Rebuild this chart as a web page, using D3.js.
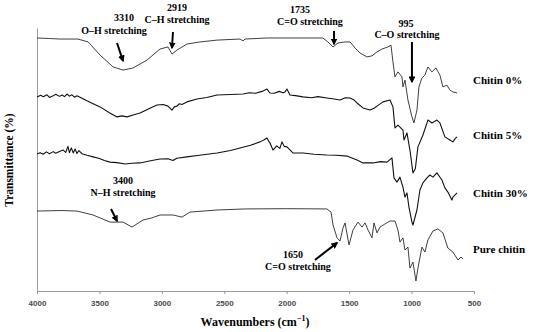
<!DOCTYPE html>
<html>
<head>
<meta charset="utf-8">
<script src="https://cdn.jsdelivr.net/npm/d3@7/dist/d3.min.js"></script>
<style>
  body { margin: 0; background: white; }
  svg { display: block; }
</style>
</head>
<body>
<svg id="chart"></svg>
<script>
// x tick values (wavenumber, cm-1)
const xTicks = [4000, 3500, 3000, 2500, 2000, 1500, 1000, 500];

// spectra: [wavenumber, transmittance (arbitrary offset %)]
const chitin0 = [
  [4000, 96.2], [3900, 96.0], [3816, 95.8], [3672, 95.8], [3590, 94.7], [3495, 89.7],
  [3391, 85.2], [3311, 84.0], [3231, 84.8], [3119, 87.8], [3015, 92.0], [2951, 92.8],
  [2919, 90.1], [2879, 91.6], [2799, 93.9], [2695, 94.7], [2558, 95.4], [2374, 95.8],
  [2350, 95.1], [2334, 95.8], [2158, 96.2], [1950, 96.2], [1710, 96.2], [1670, 94.7],
  [1629, 92.8], [1589, 94.3], [1533, 94.7], [1493, 94.7], [1453, 92.4], [1413, 90.5],
  [1357, 89.0], [1317, 89.4], [1277, 90.9], [1237, 92.0], [1189, 92.8], [1165, 93.5],
  [1149, 87.1], [1133, 81.4], [1109, 83.3], [1077, 81.4], [1069, 77.6], [1053, 80.2],
  [1029, 72.6], [997, 66.2], [981, 63.9], [957, 68.8], [941, 77.6], [917, 81.0],
  [893, 82.1], [869, 85.2], [837, 83.3], [805, 84.8], [773, 82.1], [749, 77.6],
  [717, 78.3], [693, 76.4], [669, 75.7], [636, 75.3]
];

const chitin5 = [
  [4000, 73.8], [3970, 74.4], [3950, 73.9], [3920, 74.6], [3900, 73.6], [3870, 74.2],
  [3850, 74.8], [3820, 74.0], [3800, 74.5], [3780, 73.9], [3760, 74.9], [3740, 74.1],
  [3720, 74.6], [3700, 73.7], [3680, 74.2], [3640, 73.3], [3600, 72.3], [3550, 71.2],
  [3495, 70.0], [3420, 67.8], [3359, 66.2], [3320, 66.6], [3279, 66.2], [3230, 66.9],
  [3175, 67.7], [3100, 69.4], [3039, 70.7], [2990, 70.9], [2951, 70.3], [2919, 68.8],
  [2900, 70.0], [2879, 70.3], [2860, 71.2], [2840, 70.9], [2799, 71.9], [2719, 73.0],
  [2640, 73.6], [2558, 74.5], [2450, 74.7], [2350, 74.9], [2300, 75.4], [2250, 75.2],
  [2190, 76.0], [2170, 76.5], [2158, 76.8], [2145, 75.9], [2134, 75.3], [2100, 75.2],
  [2060, 75.9], [2030, 75.4], [2014, 75.7], [1998, 76.8], [1985, 75.6], [1974, 74.5],
  [1930, 74.3], [1870, 73.8], [1800, 73.5], [1750, 73.9], [1678, 73.4], [1620, 73.0],
  [1573, 72.6], [1530, 73.5], [1493, 73.4], [1460, 72.6], [1437, 71.5], [1389, 69.6],
  [1333, 68.8], [1300, 69.5], [1277, 70.3], [1229, 71.9], [1173, 72.6], [1149, 70.0],
  [1133, 62.0], [1109, 63.1], [1069, 61.2], [1061, 57.4], [1037, 60.1], [1013, 53.6],
  [989, 44.9], [970, 46.5], [949, 54.8], [909, 59.3], [869, 65.0], [837, 63.9],
  [797, 65.0], [773, 63.9], [733, 58.6], [693, 57.4], [669, 56.7], [650, 58.0], [636, 58.6]
];

const chitin30 = [
  [4000, 52.1], [3975, 52.6], [3950, 52.0], [3925, 52.9], [3900, 52.2], [3870, 53.0],
  [3850, 52.4], [3816, 53.1], [3790, 53.6], [3770, 52.7], [3752, 55.0], [3740, 52.6],
  [3725, 54.4], [3710, 52.5], [3695, 54.0], [3680, 52.3], [3665, 53.4], [3640, 52.2],
  [3600, 51.6], [3551, 51.0], [3500, 50.4], [3460, 49.6], [3415, 49.0], [3360, 48.8],
  [3295, 48.3], [3240, 48.6], [3175, 48.7], [3100, 49.4], [3015, 50.2], [2950, 50.3],
  [2911, 49.6], [2880, 50.5], [2799, 51.0], [2700, 51.6], [2558, 52.5], [2450, 53.4],
  [2374, 54.4], [2290, 55.4], [2214, 56.7], [2180, 57.5], [2158, 58.2], [2145, 57.0],
  [2134, 56.3], [2110, 53.6], [2080, 55.2], [2055, 54.2], [2038, 56.7], [2020, 55.0],
  [1998, 54.8], [1950, 52.5], [1870, 52.5], [1780, 52.0], [1678, 51.7], [1600, 51.6],
  [1517, 51.3], [1437, 49.8], [1389, 48.7], [1309, 48.7], [1250, 49.2], [1197, 49.0],
  [1157, 50.6], [1141, 43.0], [1117, 41.4], [1093, 43.3], [1069, 39.5], [1053, 35.7],
  [1037, 37.3], [1021, 31.9], [997, 26.2], [989, 25.1], [957, 30.8], [933, 38.4],
  [909, 41.1], [877, 43.0], [853, 44.1], [829, 43.3], [797, 44.9], [757, 42.2],
  [733, 39.2], [709, 37.6], [677, 34.6], [669, 35.7], [636, 37.3]
];

const pureChitin = [
  [4000, 30.4], [3800, 30.6], [3680, 30.4], [3551, 28.9], [3415, 26.2], [3311, 26.2],
  [3239, 24.3], [3151, 27.0], [3079, 27.8], [3015, 28.9], [2911, 28.9], [2839, 28.1],
  [2775, 30.0], [2558, 30.8], [2334, 31.2], [2000, 31.3], [1678, 31.2], [1645, 30.0],
  [1629, 25.1], [1597, 20.2], [1573, 19.0], [1549, 24.0], [1533, 25.9], [1501, 17.5],
  [1469, 23.2], [1429, 26.2], [1397, 24.3], [1373, 25.9], [1349, 23.2], [1317, 20.2],
  [1301, 25.9], [1277, 22.1], [1253, 24.3], [1213, 25.5], [1173, 26.6], [1133, 26.6],
  [1109, 23.2], [1093, 18.6], [1069, 20.2], [1053, 15.6], [1029, 16.7], [1013, 8.7],
  [989, 11.0], [965, 3.8], [949, 8.7], [917, 16.7], [893, 14.8], [869, 19.4],
  [829, 22.8], [789, 23.6], [749, 22.1], [709, 16.3], [669, 14.8], [628, 11.8],
  [604, 12.9], [588, 12.2]
];

const seriesNames = ["Chitin 0%", "Chitin 5%", "Chitin 30%", "Pure chitin"];
const seriesData = [chitin0, chitin5, chitin30, pureChitin];
// where the series name sits (wavenumber, transmittance)
const seriesLabelPos = [[508, 78.7], [508, 57.8], [508, 35.7], [508, 14.4]];

// peak annotations: number, description, number pos, description pos, arrow from -> to
const peakNums = ["3310", "2919", "1735", "995", "3400", "1650"];
const peakDescs = ["O–H stretching", "C–H stretching", "C=O stretching", "C–O stretching", "N–H stretching", "C=O stretching"];
const peakNumPos = [[3303, 102.7], [2879, 106.5], [1894, 105.7], [1045, 100.4], [3311, 40.7], [1950, 12.5]];
const peakDescPos = [[3383, 97.7], [2879, 101.9], [1814, 101.1], [1037, 96.2], [3311, 36.1], [1910, 8.0]];
const arrowFrom = [[3359, 94.3], [2911, 98.5], [1621, 98.9], [997, 94.7], [3407, 31.2], [1774, 11.8]];
const arrowTo = [[3311, 87.5], [2919, 92.4], [1621, 93.9], [997, 79.5], [3359, 26.6], [1597, 18.3]];

const width = 533, height = 332;
const svg = d3.select("#chart").attr("width", width).attr("height", height);

const x = d3.scaleLinear().domain([4000, 500]).range([37, 474]);
const y = d3.scaleLinear().domain([0, 100]).range([291, 28]);

//axes
const xAxis = svg.append("g")
  .attr("transform", `translate(0,${y(0)})`)
  .call(d3.axisBottom(x).tickValues(xTicks).tickFormat(d3.format("d"))
    .tickSize(3).tickSizeOuter(0).tickPadding(6));
xAxis.select(".domain").attr("stroke", "#9a9a9a");
xAxis.selectAll(".tick line").attr("stroke", "#9a9a9a");
xAxis.selectAll(".tick text")
  .style("font-family", "'Liberation Sans', Arial, sans-serif")
  .style("font-size", "8px")
  .style("font-weight", "bold")
  .attr("fill", "#4a4a4a");

const yAxis = svg.append("g")
  .attr("transform", `translate(${x(4000)},0)`)
  .call(d3.axisLeft(y).tickValues([]).tickSizeOuter(0));
yAxis.select(".domain").attr("stroke", "#9a9a9a");

//axis titles
const serif = "'Liberation Serif', 'Times New Roman', serif";
const xTitle = svg.append("text")
  .attr("x", 255).attr("y", 326)
  .attr("text-anchor", "middle")
  .style("font-family", serif).style("font-size", "12px").style("font-weight", "bold");
xTitle.append("tspan").text("Wavenumbers (cm");
xTitle.append("tspan").attr("dy", -5).style("font-size", "8px").text("−1");
xTitle.append("tspan").attr("dy", 5).text(")");

svg.append("text")
  .attr("transform", "translate(13,160) rotate(-90)")
  .attr("text-anchor", "middle")
  .style("font-family", serif).style("font-size", "11.5px").style("font-weight", "bold")
  .text("Transmittance (%)");

//spectra
const line = d3.line().x(d => x(d[0])).y(d => y(d[1]));
svg.selectAll("path.spectrum")
  .data(seriesData)
  .join("path")
  .attr("class", "spectrum")
  .attr("d", line)
  .attr("fill", "none")
  .attr("stroke", (d, i) => (i === 0 || i === 3) ? "#2a2a2a" : "#111")
  .attr("stroke-width", (d, i) => (i === 0 || i === 3) ? 0.9 : 1.1)
  .attr("stroke-linejoin", "round");

//series names
svg.selectAll("text.series")
  .data(seriesNames)
  .join("text")
  .attr("class", "series")
  .attr("x", (d, i) => x(seriesLabelPos[i][0]))
  .attr("y", (d, i) => y(seriesLabelPos[i][1]))
  .style("font-family", serif).style("font-size", "11px").style("font-weight", "bold")
  .text(d => d);

//arrows
svg.append("defs").append("marker")
  .attr("id", "head")
  .attr("viewBox", "0 0 10 10")
  .attr("refX", 8).attr("refY", 5)
  .attr("markerWidth", 3.4).attr("markerHeight", 3.4)
  .attr("orient", "auto")
  .append("path").attr("d", "M0,0 L10,5 L0,10 Z").attr("fill", "#000");

svg.selectAll("line.arrow")
  .data(peakNums)
  .join("line")
  .attr("class", "arrow")
  .attr("x1", (d, i) => x(arrowFrom[i][0]))
  .attr("y1", (d, i) => y(arrowFrom[i][1]))
  .attr("x2", (d, i) => x(arrowTo[i][0]))
  .attr("y2", (d, i) => y(arrowTo[i][1]))
  .attr("stroke", "#000")
  .attr("stroke-width", 2)
  .attr("marker-end", "url(#head)");

//peak labels
svg.selectAll("text.peaknum")
  .data(peakNums)
  .join("text")
  .attr("class", "peaknum")
  .attr("x", (d, i) => x(peakNumPos[i][0]))
  .attr("y", (d, i) => y(peakNumPos[i][1]))
  .attr("text-anchor", "middle")
  .style("font-family", serif).style("font-size", "10px").style("font-weight", "bold")
  .text(d => d);

svg.selectAll("text.peakdesc")
  .data(peakDescs)
  .join("text")
  .attr("class", "peakdesc")
  .attr("x", (d, i) => x(peakDescPos[i][0]))
  .attr("y", (d, i) => y(peakDescPos[i][1]))
  .attr("text-anchor", "middle")
  .style("font-family", serif).style("font-size", "10px").style("font-weight", "bold")
  .text(d => d);
</script>
</body>
</html>
